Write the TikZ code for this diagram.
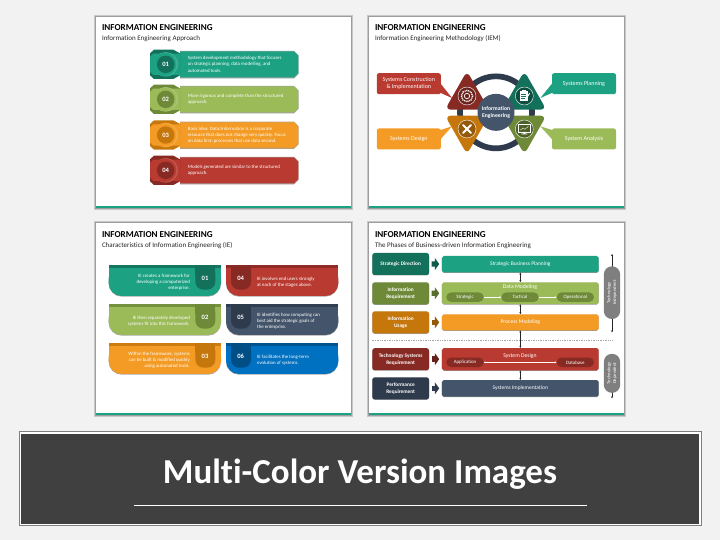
\documentclass[tikz,border=0pt]{standalone}
\usepackage{fontspec}
\setmainfont[Ligatures=NoCommon]{Carlito}
\usetikzlibrary{arrows.meta}
\definecolor{bgc}{HTML}{F2F2F2}
\definecolor{tealL}{HTML}{1CA283}\definecolor{tealD}{HTML}{13705B}
\definecolor{greenL}{HTML}{9BBB59}\definecolor{greenD}{HTML}{6E8A38}
\definecolor{orangeL}{HTML}{F39B25}\definecolor{orangeD}{HTML}{C5770C}
\definecolor{redL}{HTML}{B93A30}\definecolor{redD}{HTML}{862A23}
\definecolor{navyL}{HTML}{44546A}\definecolor{navyD}{HTML}{2E3B4D}
\definecolor{blueL}{HTML}{0070C0}\definecolor{blueD}{HTML}{004E86}
\definecolor{pillg}{HTML}{7F7F7F}
\definecolor{bannerc}{HTML}{404040}
\newcommand{\fz}[2]{\fontsize{#1}{#2}\selectfont}
\tikzset{
  zoomed/.style={x=0.33333pt,y=-0.33333pt},
  titletxt/.style={anchor=west,inner sep=0pt,text=black,font=\fz{9.1}{10}\bfseries},
  subtxt/.style={anchor=west,inner sep=0pt,text=black!85,font=\fz{7}{8}},
  bodytxt/.style={inner sep=0pt,text=white,font=\fz{4.85}{6.1}},
  numtxt/.style={inner sep=0pt,text=white,font=\fz{6.6}{8}\bfseries},
  callout/.style={rounded corners=2.2pt,inner sep=0pt,text=white,align=center,font=\fz{6}{6.8},minimum width=64pt,minimum height=21pt},
  lbox/.style={rounded corners=2.4pt,inner sep=0pt,text=white,align=center,font=\fz{5.3}{6.8}\bfseries,minimum width=56.7pt,minimum height=22pt,preaction={fill=black!40,transform canvas={yshift=-0.5pt}}},
  rbox/.style={rounded corners=1.8pt,inner sep=0pt,text=white,align=center,font=\fz{5.5}{6.6},minimum width=156.7pt,preaction={fill=black!40,transform canvas={yshift=-0.5pt}}},
  pill/.style={rounded corners=4.6pt,inner sep=0pt,text=white,font=\fz{4.9}{5.5},minimum width=37.3pt,minimum height=9.4pt},
  vpill/.style={rounded corners=8pt,inner sep=0pt,fill=pillg,text=white,rotate=90,align=center,font=\fz{4.7}{5.6},minimum height=16.3pt},
  blockarrow/.style={line width=5.4pt,shorten <=2.3pt,shorten >=2.6pt,-{Triangle[length=4.2pt,width=11.5pt]}},
  vconn/.style={line width=0.5pt,black!85,{Stealth[length=2pt,width=2pt]}-{Stealth[length=2pt,width=2pt]}},
  wconn/.style={line width=0.5pt,white,-{Stealth[length=1.6pt,width=1.8pt]}},
  wconnb/.style={line width=0.5pt,white,{Stealth[length=1.6pt,width=1.8pt]}-{Stealth[length=1.6pt,width=1.8pt]}},
  innertitle/.style={inner sep=0pt,text=white,font=\fz{5.7}{6.6}}
}
% slide frame: x0,y0,x1,y1, title, subtitle, title y, sub y, name
\newcommand{\slideframe}[9]{%
  \foreach \gx/\gc in {2.4/black!12,1.6/black!22,0.8/black!38}{\fill[\gc] (#1-\gx,#2-\gx) rectangle (#3+\gx,#4+\gx);}
  \fill[white] (#1,#2) rectangle (#3,#4);
  \fill[tealL] (#1,#4-2) rectangle (#3,#4);
  \node[titletxt] (#9t) at (#1+5.8,#7) {#5};
  \node[subtxt] (#9s) at (#1+5.8,#8) {#6};
}
% slide 1 row: yc, light, dark, number, text, name
\newcommand{\approw}[6]{%
  \begin{scope}[yshift=-#1*0.33333pt]
  \fill[#2!60!black!60] (270,-40) -- (612,-40) -- (626,-26) -- (626,28) -- (612,42) -- (270,42) -- cycle;
  \fill[#2] (270,-38) -- (612,-38) -- (624,-26) -- (624,26) -- (612,38) -- (270,38) -- cycle;
  \fill[#3] (192,-44) -- (250,-44) -- (270,-33) -- (270,33) -- (250,44) -- (192,44) -- (180,33) -- (180,-33) -- cycle;
  \fill[#2] (190,-32) -- (270,-32) -- (270,32) -- (190,32) -- (180,22) -- (180,-22) -- cycle;
  \fill[#2!85!white] (227,0) circle (37);
  \fill[#2] (224,0) circle (35);
  \node[circle,fill=#3,minimum size=17.5pt,inner sep=0pt,numtxt] (#6n) at (227,0) {#4};
  \node[bodytxt,anchor=west,align=left] (#6t) at (293,0) {#5};
  \end{scope}
}
% slide 3 card: x0, y0, light, dark, tab x0, number, name
\newcommand{\iecard}[7]{%
  \begin{scope}[yshift=-#2*0.33333pt]
  \fill[black!35,rounded corners=13pt] (#1,10) rectangle (#1+337,94);
  \fill[#3,rounded corners=13pt] (#1,0) rectangle (#1+337,92);
  \fill[#3] (#1,0) rectangle (#1+337,50);
  \fill[#4!85!#3] (#1,0) rectangle (#1+337,8);
  \fill[#4,rounded corners=8pt] (#5,0) rectangle (#5+60,73);
  \fill[#4] (#5,0) rectangle (#5+60,30);
  \node[numtxt] (#7n) at (#5+29,38) {#6};
  \end{scope}
}
\begin{document}
\begin{tikzpicture}[x=1pt,y=-1pt]
\useasboundingbox (0,0) rectangle (720,540);
\fill[bgc] (0,0) rectangle (720,540);

% ---------- slide 1
\slideframe{96}{17}{351}{208}{INFORMATION ENGINEERING}{Information Engineering Approach}{27.3}{38.3}{sa}
\begin{scope}[shift={(90,10)},zoomed]
\approw{163}{tealL}{tealD}{01}{System development methodology that focuses\\on strategic planning, data modelling, and\\automated tools.}{ra}
\approw{268}{greenL}{greenD}{02}{More rigorous and complete than the structured\\approach.}{rb}
\approw{375}{orangeL}{orangeD}{03}{Basic idea: Data/information is a corporate\\resource that does not change very quickly. Focus\\on data first; processes that use data second.}{rc}
\approw{481}{redL}{redD}{04}{Models generated are similar to the structured\\approach.}{rd}
\end{scope}

% ---------- slide 2
\slideframe{369}{17}{624}{208}{INFORMATION ENGINEERING}{Information Engineering Methodology (IEM)}{27.3}{38.3}{sb}
\begin{scope}[shift={(362,10)},zoomed]
\draw[navyD,line width=5.7pt] (402,307) circle (108);
% callouts
\node[callout,fill=redL] (cr) at (140.5,221) {Systems Construction\\\& Implementation};
\node[callout,fill=tealL] (ct) at (666,221) {Systems Planning};
\node[callout,fill=orangeL] (co) at (140.5,387) {Systems Design};
\node[callout,fill=greenL] (cg) at (666,387) {System Analysis};
\coordinate (pr) at (270,264); \coordinate (pt) at (535,264);
\coordinate (po) at (270,349); \coordinate (pg) at (535,349);
\fill[redL] (232,216) -- (pr) -- (232,247) -- cycle;
\fill[tealL] (574,216) -- (pt) -- (574,247) -- cycle;
\fill[orangeL] (232,392) -- (po) -- (232,361) -- cycle;
\fill[greenL] (574,392) -- (pg) -- (574,361) -- cycle;
% triangles
\fill[redD,rounded corners=6pt] (315,183) -- (249,299) -- (381,299) -- cycle;
\fill[tealD,rounded corners=6pt] (487,183) -- (421,299) -- (553,299) -- cycle;
\fill[orangeD,rounded corners=6pt] (249,317) -- (381,317) -- (315,433) -- cycle;
\fill[greenD,rounded corners=6pt] (421,317) -- (553,317) -- (487,433) -- cycle;
% centre
\node[circle,fill=navyL,minimum size=37pt,inner sep=0pt,text=white,align=center,font=\fz{5.7}{6.8}\bfseries] (hub) at (402,307) {Information\\Engineering};
% gear
\draw[white,line width=0.4pt,fill=redD!80!black] (315,258) circle (27);
\draw[white,line width=1.4pt,dash pattern=on 1pt off 0.8pt] (315,258) circle (17);
\draw[white,line width=0.7pt] (315,258) circle (8);
% clipboard
\draw[white,line width=0.4pt,fill=tealD!70!black] (487,258) circle (27);
\fill[white] (474,243) rectangle (497,274);
\fill[white] (480,240) rectangle (491,246);
\draw[tealD,line width=0.4pt] (478,252) -- (493,252) (478,258) -- (493,258) (478,264) -- (490,264);
\draw[white,line width=1pt] (491,268) -- (503,250);
% tools
\draw[white,line width=0.4pt,fill=orangeD!75!black] (315,357) circle (27);
\draw[white,line width=2pt,line cap=round] (303,345) -- (327,369) (327,345) -- (303,369);
% monitor
\draw[white,line width=0.4pt,fill=greenD!70!black] (487,357) circle (27);
\draw[white,line width=0.6pt] (470,344) rectangle (504,366);
\draw[white,line width=0.35pt] (474,361) -- (483,354) -- (489,358) -- (499,349);
\fill[white] (484,366) rectangle (490,371) (478,371) rectangle (496,373);
\end{scope}

% ---------- slide 3
\slideframe{96}{223}{351}{415}{INFORMATION ENGINEERING}{Characteristics of Information Engineering (IE)}{234.3}{245.3}{sc}
\begin{scope}[shift={(90,218)},zoomed]
\iecard{56}{142}{tealL}{tealD}{316}{01}{ca}
\iecard{56}{259}{greenL}{greenD}{316}{02}{cb}
\iecard{56}{376}{orangeL}{orangeD}{316}{03}{cc}
\iecard{408}{142}{redL}{redD}{423}{04}{cd}
\iecard{408}{259}{navyL}{navyD}{423}{05}{ce}
\iecard{408}{376}{blueL}{blueD}{423}{06}{cf}
\node[bodytxt,anchor=east,align=right] (ta) at (300,192) {IE creates a framework for\\developing a computerized\\enterprise.};
\node[bodytxt,anchor=east,align=right] (tb) at (300,308.5) {IE then separately developed\\systems fit into this framework.};
\node[bodytxt,anchor=east,align=right] (tc) at (300,426) {Within the framework, systems\\can be built \& modified quickly\\using automated tools.};
\node[bodytxt,anchor=west,align=left] (td) at (501,191.5) {IE involves end users strongly\\at each of the stages above.};
\node[bodytxt,anchor=west,align=left] (te) at (501,310) {IE identifies how computing can\\best aid the strategic goals of\\the enterprise.};
\node[bodytxt,anchor=west,align=left] (tf) at (501,426.5) {IE facilitates the long-term\\evolution of systems.};
\end{scope}

% ---------- slide 4
\slideframe{369}{223}{624}{415}{INFORMATION ENGINEERING}{The Phases of Business-driven Information Engineering}{234.3}{245.3}{sd}
\begin{scope}[shift={(362,218)},zoomed]
\node[lbox,fill=tealD] (l1) at (116,138) {Strategic Direction};
\node[lbox,fill=greenD] (l2) at (116,226) {Information\\Requirement};
\node[lbox,fill=orangeD] (l3) at (116,313) {Information\\Usage};
\node[lbox,fill=redD] (l4) at (116,423.5) {Technology Systems\\Requirement};
\node[lbox,fill=navyD] (l5) at (116,511) {Performance\\Requirement};
\node[rbox,fill=tealL,minimum height=16.4pt] (r1) at (475,138.5) {Strategic Business Planning};
\node[rbox,fill=greenL,minimum height=21.8pt] (r2) at (475,225.5) {};
\node[rbox,fill=orangeL,minimum height=16pt] (r3) at (475,313) {Process Modeling};
\node[rbox,fill=redL,minimum height=22.2pt] (r4) at (475,423.5) {};
\node[rbox,fill=navyL,minimum height=16.6pt] (r5) at (475,511) {Systems Implementation};
\draw[blockarrow,tealD!80!black] (l1) -- (r1);
\draw[blockarrow,greenD!80!black] (l2) -- (r2);
\draw[blockarrow,orangeD!75!black] (l3) -- (r3);
\draw[blockarrow,redD!75!black] (l4) -- (r4);
\draw[blockarrow,navyD] (l5) -- (r5);
\node[innertitle] (dmt) at (474,207) {Data Modeling};
\node[innertitle] (sdt) at (474,413) {System Design};
\node[pill,fill=greenD] (p1) at (309,237.5) {Strategic};
\node[pill,fill=greenD] (p2) at (474,237.5) {Tactical};
\node[pill,fill=greenD] (p3) at (640,237.5) {Operational};
\node[pill,fill=redD] (p4) at (309,433) {Application};
\node[pill,fill=redD] (p5) at (640,433) {Database};
\draw[wconn] (p1) -- (p2);
\draw[wconn] (p2) -- (p3);
\draw[wconnb] (p4) -- (p5);
\draw[vconn] (r1) -- (r2);
\draw[vconn] (r2) -- (r3);
\draw[vconn] (r3) -- (r4);
\draw[vconn] (r4) -- (r5);
\draw[black!35,line width=0.4pt,dash pattern=on 1.4pt off 1pt] (31,367) -- (752,367);
\coordinate (u1) at (750,108); \coordinate (u2) at (750,343);
\coordinate (u3) at (750,408); \coordinate (u4) at (750,541);
\draw[vconn] (u1) -- (u2);
\draw[vconn] (u3) -- (u4);
\node[vpill,minimum width=52.7pt] (v1) at (750,224) {Technology\\Independent};
\node[vpill,minimum width=39pt] (v2) at (750,466) {Technology\\Dependent};
\end{scope}

% ---------- banner
\fill[pillg] (19,431) rectangle (701.5,526);
\fill[white] (20,432) rectangle (700.5,525);
\node[fill=bannerc,minimum width=677.5pt,minimum height=90pt,inner sep=0pt] (banner) at (360.2,478.5) {};
\node[inner sep=0pt,text=white,font=\fz{35}{40}\bfseries] (bt) at (360,474.5) {Multi-Color Version Images};
\coordinate (bl) at (134,505); \coordinate (br) at (587,505);
\draw[white,line width=0.8pt] (bl) -- (br);
\end{tikzpicture}
\end{document}
